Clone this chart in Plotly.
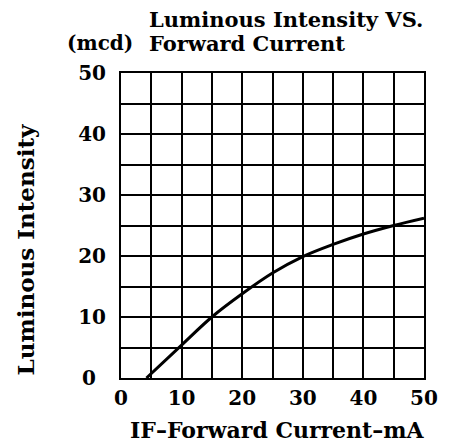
import plotly.graph_objects as go

current_ma = [4.2, 10, 15, 20, 25, 30, 35, 40, 45, 50]
intensity_mcd = [0, 5.4, 10, 13.8, 17.2, 19.9, 21.9, 23.6, 25.0, 26.2]
x_ticks = [0, 10, 20, 30, 40, 50]
y_ticks = [0, 10, 20, 30, 40, 50]
y_ticktext = ["0\u2002", "10", "20", "30", "40", "50"]

FONT = "DejaVu Serif"

fig = go.Figure()
fig.add_trace(go.Scatter(x=current_ma, y=intensity_mcd, mode="lines",
                         line=dict(color="black", width=3, shape="spline"),
                         showlegend=False, hoverinfo="skip"))

axis_common = dict(range=[0, 50], showgrid=True, gridcolor="black", gridwidth=2,
                   minor=dict(dtick=5, showgrid=True, gridcolor="black", gridwidth=2),
                   showline=True, linecolor="black", linewidth=2, mirror=True,
                   zeroline=False, ticks="",
                   tickfont=dict(family=FONT, size=20, color="black", weight="bold"))

fig.update_xaxes(**axis_common, tickvals=x_ticks, ticklabelstandoff=1)
fig.update_yaxes(**axis_common, tickvals=y_ticks, ticktext=y_ticktext, ticklabelstandoff=9)

def ann(text, x, y, size, xanchor="left", yanchor="middle", angle=0):
    fig.add_annotation(text=text, x=x, y=y, xref="paper", yref="paper",
                       xanchor=xanchor, yanchor=yanchor, showarrow=False,
                       textangle=angle, borderpad=0,
                       font=dict(family=FONT, size=size, color="black", weight="bold"))

ann("(mcd)", -0.183, 1.098, 20)
ann("Luminous Intensity VS.", 0.09, 1.174, 21)
ann("Forward Current", 0.09, 1.098, 21)
ann("IF\u2013Forward Current\u2013mA", 0.516, -0.17, 22, xanchor="center")
ann("Luminous Intensity", -0.315, 0.42, 23, xanchor="center", angle=-90)

# page body adds an 8px offset; size figure so plot area lands where the reference has it
fig.update_layout(width=442, height=437, margin=dict(l=113, r=23, t=65, b=67),
                  plot_bgcolor="white", paper_bgcolor="white")

fig.write_html("out.html")
